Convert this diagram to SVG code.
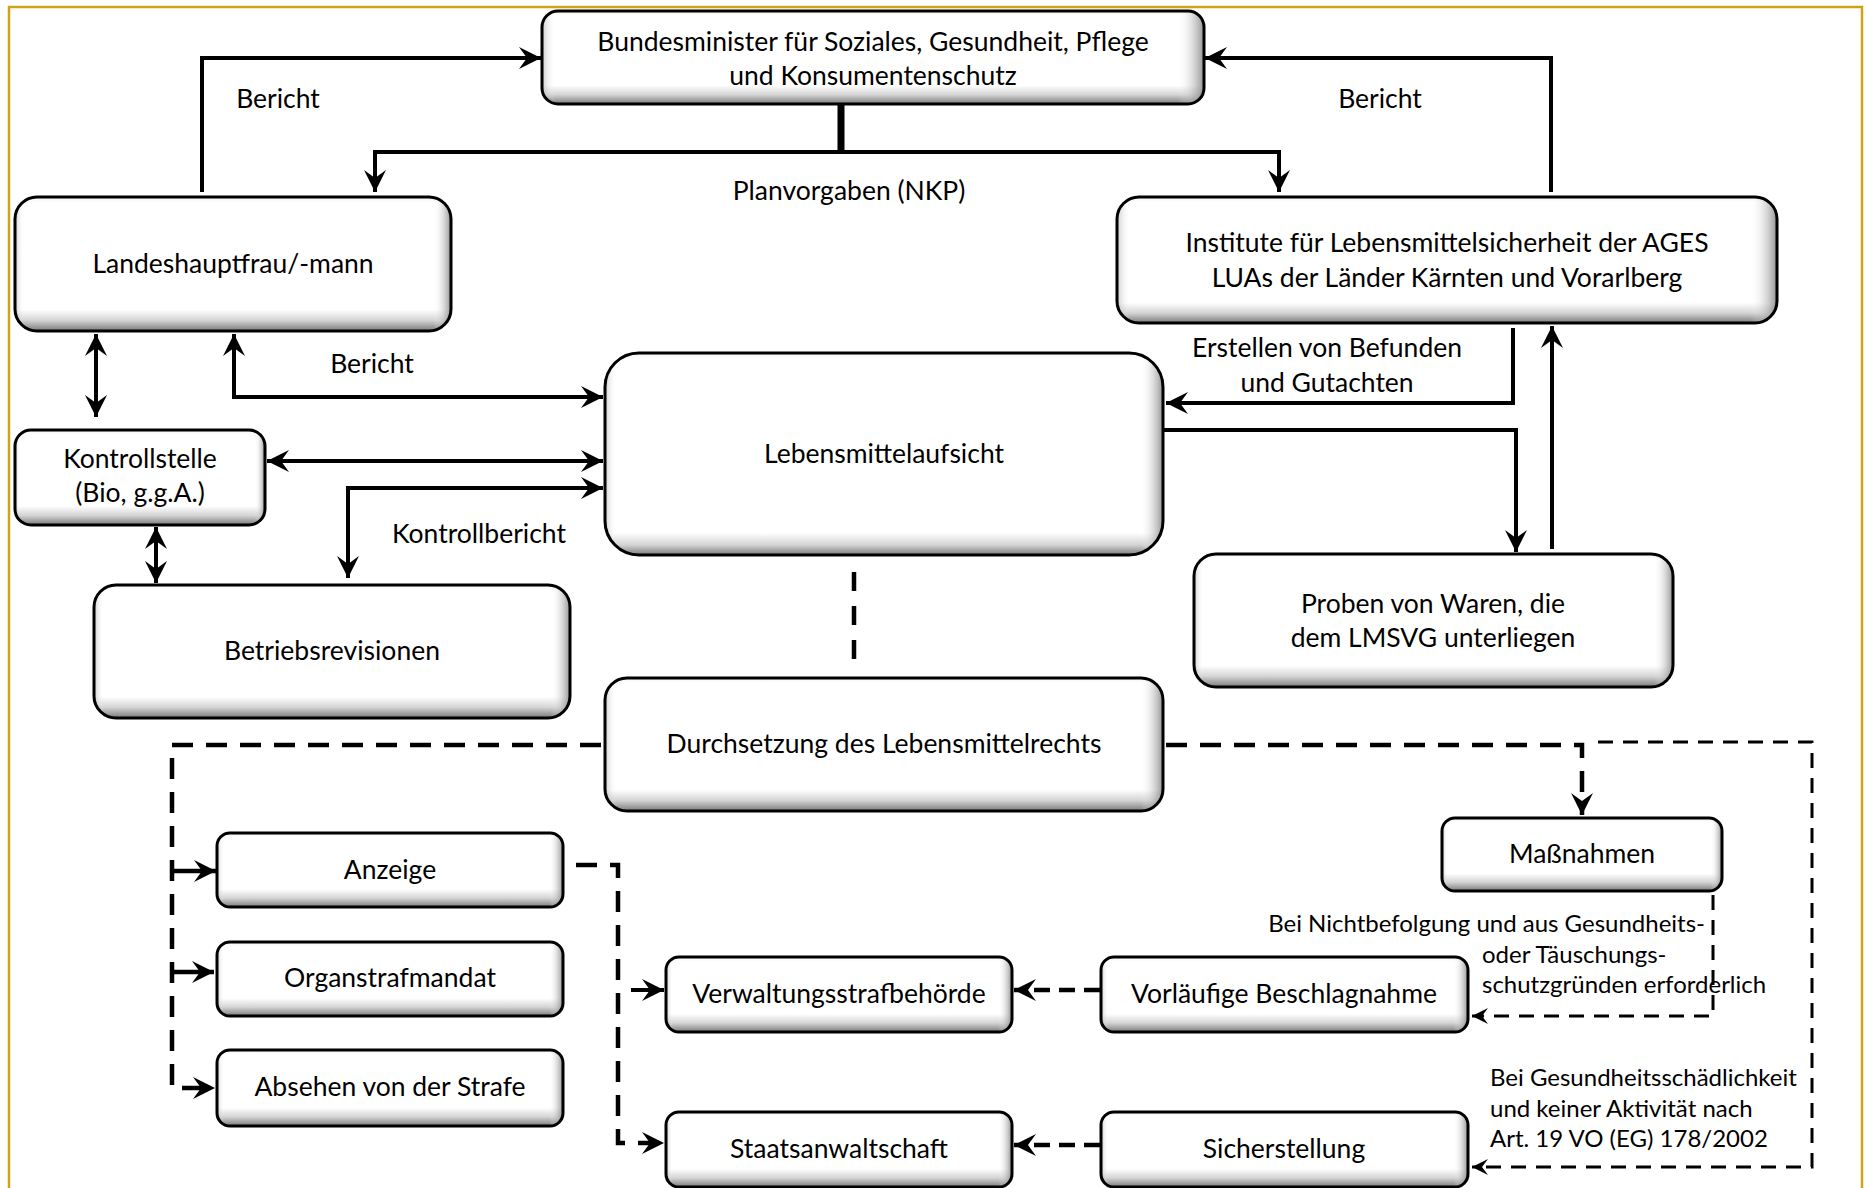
<svg xmlns="http://www.w3.org/2000/svg" width="1867" height="1188" viewBox="0 0 1867 1188">
<style>
  .box{stroke:#000;stroke-width:3}
  .t{font-family:Lato,"Liberation Sans",sans-serif;font-size:26.5px;fill:#000;text-anchor:middle}
  .ts{font-family:Lato,"Liberation Sans",sans-serif;font-size:24px;fill:#000}
  .solid{fill:none;stroke:#000;stroke-width:4}
  .dash{fill:none;stroke:#000;stroke-width:4.5;stroke-dasharray:21 13}
  .dthin{fill:none;stroke:#000;stroke-width:3;stroke-dasharray:15 10}
</style>
<defs>
  <linearGradient id="g75" x1="0" y1="0" x2="0" y2="1">
    <stop offset="0" stop-color="#f4f4f4"/><stop offset="0.06" stop-color="#fff"/><stop offset="0.76" stop-color="#fff"/><stop offset="0.88" stop-color="#d4d4d4"/><stop offset="1" stop-color="#7a7a7a"/>
  </linearGradient>
  <linearGradient id="g95" x1="0" y1="0" x2="0" y2="1">
    <stop offset="0" stop-color="#f4f4f4"/><stop offset="0.05" stop-color="#fff"/><stop offset="0.8" stop-color="#fff"/><stop offset="0.9" stop-color="#d4d4d4"/><stop offset="1" stop-color="#7a7a7a"/>
  </linearGradient>
  <linearGradient id="g130" x1="0" y1="0" x2="0" y2="1">
    <stop offset="0" stop-color="#f4f4f4"/><stop offset="0.04" stop-color="#fff"/><stop offset="0.84" stop-color="#fff"/><stop offset="0.92" stop-color="#d4d4d4"/><stop offset="1" stop-color="#7a7a7a"/>
  </linearGradient>
  <linearGradient id="g200" x1="0" y1="0" x2="0" y2="1">
    <stop offset="0" stop-color="#f4f4f4"/><stop offset="0.03" stop-color="#fff"/><stop offset="0.89" stop-color="#fff"/><stop offset="0.95" stop-color="#d4d4d4"/><stop offset="1" stop-color="#7a7a7a"/>
  </linearGradient>
  <linearGradient id="hR" x1="0" y1="0" x2="1" y2="0">
    <stop offset="0" stop-color="#999" stop-opacity="0.5"/><stop offset="0.02" stop-color="#fff" stop-opacity="0"/><stop offset="0.96" stop-color="#fff" stop-opacity="0"/><stop offset="1" stop-color="#777" stop-opacity="0.8"/>
  </linearGradient>
  <marker id="ah" viewBox="-24 -12 26 24" refX="0" refY="0" markerWidth="26" markerHeight="24" markerUnits="userSpaceOnUse" orient="auto-start-reverse">
    <path d="M0,0 L-22,-11 L-14,0 L-22,11 Z" fill="#000"/>
  </marker>
  <marker id="as" viewBox="-18 -9 20 18" refX="0" refY="0" markerWidth="20" markerHeight="18" markerUnits="userSpaceOnUse" orient="auto-start-reverse">
    <path d="M0,0 L-16,-8 L-10,0 L-16,8 Z" fill="#000"/>
  </marker>
</defs>

<rect x="9" y="7" width="1853" height="1195" fill="#fff" stroke="#d0a216" stroke-width="2.5"/>

<g id="connectors">
  <path class="solid" d="M202,192 V58 H541" marker-end="url(#ah)"/>
  <path class="solid" d="M1551,192 V58 H1205" marker-end="url(#ah)"/>
  <path class="solid" d="M841,104 V152" style="stroke-width:7"/>
  <path class="solid" d="M375,192 V152 H1279 V192" marker-start="url(#ah)" marker-end="url(#ah)"/>
  <path class="solid" d="M96,334 V417" marker-start="url(#ah)" marker-end="url(#ah)"/>
  <path class="solid" d="M234,334 V397 H603" marker-start="url(#ah)" marker-end="url(#ah)"/>
  <path class="solid" d="M267,461 H603" marker-start="url(#ah)" marker-end="url(#ah)"/>
  <path class="solid" d="M603,488 H348 V578" marker-start="url(#ah)" marker-end="url(#ah)"/>
  <path class="solid" d="M156,527 V583" marker-start="url(#ah)" marker-end="url(#ah)"/>
  <path class="solid" d="M1513,328 V403 H1166" marker-end="url(#ah)"/>
  <path class="solid" d="M1164,430 H1516 V552" marker-end="url(#ah)"/>
  <path class="solid" d="M1552,549 V326" marker-end="url(#ah)"/>
  <path class="dash" d="M854,572 V660" style="stroke-dasharray:19 15"/>
  <path class="dash" d="M601,745 H172 V1088 H215" marker-end="url(#ah)"/>
  <path class="dash" d="M172,871 H216" style="stroke-dasharray:none" marker-end="url(#ah)"/>
  <path class="dash" d="M172,972 H214" style="stroke-dasharray:none" marker-end="url(#ah)"/>
  <path class="dash" d="M1166,745 H1582 V815" marker-end="url(#ah)"/>
  <path class="dthin" d="M1598,742 H1812 V1167 H1472" marker-end="url(#as)"/>
  <path class="dthin" d="M1713,895 V1016 H1472" marker-end="url(#as)"/>
  <path class="dash" d="M1100,990 H1014" style="stroke-dasharray:16 9" marker-end="url(#ah)"/>
  <path class="dash" d="M1100,1145 H1014" style="stroke-dasharray:16 9" marker-end="url(#ah)"/>
  <path class="dash" d="M576,865 H618 V1143 H664" marker-end="url(#ah)"/>
  <path class="solid" d="M631,990 H664" marker-end="url(#ah)"/>
</g>

<g id="labels">
  <text class="t" x="278" y="108">Bericht</text>
  <text class="t" x="1380" y="108">Bericht</text>
  <text class="t" x="849" y="200">Planvorgaben (NKP)</text>
  <text class="t" x="372" y="373">Bericht</text>
  <text class="t" x="479" y="543">Kontrollbericht</text>
  <text class="t" x="1327" y="357">Erstellen von Befunden</text>
  <text class="t" x="1327" y="392">und Gutachten</text>
  <text class="ts" x="1705" y="932" text-anchor="end">Bei Nichtbefolgung und aus Gesundheits-</text>
  <text class="ts" x="1482" y="963">oder Täuschungs-</text>
  <text class="ts" x="1482" y="993">schutzgründen erforderlich</text>
  <text class="ts" x="1490" y="1086">Bei Gesundheitsschädlichkeit</text>
  <text class="ts" x="1490" y="1117">und keiner Aktivität nach</text>
  <text class="ts" x="1490" y="1147">Art. 19 VO (EG) 178/2002</text>
</g>

<g id="n-bundesminister">
  <rect x="542" y="11" width="662" height="93" rx="16" fill="url(#g95)"/>
  <rect class="box" x="542" y="11" width="662" height="93" rx="16" fill="url(#hR)"/>
  <text class="t" x="873" y="51">Bundesminister für Soziales, Gesundheit, Pflege</text>
  <text class="t" x="873" y="85">und Konsumentenschutz</text>
</g>
<g id="n-landeshauptmann">
  <rect x="15" y="197" width="436" height="134" rx="22" fill="url(#g130)"/>
  <rect class="box" x="15" y="197" width="436" height="134" rx="22" fill="url(#hR)"/>
  <text class="t" x="233" y="273">Landeshauptfrau/-mann</text>
</g>
<g id="n-institute">
  <rect x="1117" y="197" width="660" height="126" rx="22" fill="url(#g130)"/>
  <rect class="box" x="1117" y="197" width="660" height="126" rx="22" fill="url(#hR)"/>
  <text class="t" x="1447" y="252">Institute für Lebensmittelsicherheit der AGES</text>
  <text class="t" x="1447" y="287">LUAs der Länder Kärnten und Vorarlberg</text>
</g>
<g id="n-kontrollstelle">
  <rect x="15" y="430" width="250" height="95" rx="16" fill="url(#g95)"/>
  <rect class="box" x="15" y="430" width="250" height="95" rx="16" fill="url(#hR)"/>
  <text class="t" x="140" y="468">Kontrollstelle</text>
  <text class="t" x="140" y="502">(Bio, g.g.A.)</text>
</g>
<g id="n-betriebsrevisionen">
  <rect x="94" y="585" width="476" height="133" rx="22" fill="url(#g130)"/>
  <rect class="box" x="94" y="585" width="476" height="133" rx="22" fill="url(#hR)"/>
  <text class="t" x="332" y="660">Betriebsrevisionen</text>
</g>
<g id="n-lebensmittelaufsicht">
  <rect x="605" y="353" width="558" height="202" rx="34" fill="url(#g200)"/>
  <rect class="box" x="605" y="353" width="558" height="202" rx="34" fill="url(#hR)"/>
  <text class="t" x="884" y="463">Lebensmittelaufsicht</text>
</g>
<g id="n-durchsetzung">
  <rect x="605" y="678" width="558" height="133" rx="22" fill="url(#g130)"/>
  <rect class="box" x="605" y="678" width="558" height="133" rx="22" fill="url(#hR)"/>
  <text class="t" x="884" y="753">Durchsetzung des Lebensmittelrechts</text>
</g>
<g id="n-proben">
  <rect x="1194" y="554" width="479" height="133" rx="22" fill="url(#g130)"/>
  <rect class="box" x="1194" y="554" width="479" height="133" rx="22" fill="url(#hR)"/>
  <text class="t" x="1433" y="613">Proben von Waren, die</text>
  <text class="t" x="1433" y="647">dem LMSVG unterliegen</text>
</g>
<g id="n-massnahmen">
  <rect x="1442" y="818" width="280" height="73" rx="13" fill="url(#g75)"/>
  <rect class="box" x="1442" y="818" width="280" height="73" rx="13" fill="url(#hR)"/>
  <text class="t" x="1582" y="863">Maßnahmen</text>
</g>
<g id="n-anzeige">
  <rect x="217" y="833" width="346" height="74" rx="13" fill="url(#g75)"/>
  <rect class="box" x="217" y="833" width="346" height="74" rx="13" fill="url(#hR)"/>
  <text class="t" x="390" y="879">Anzeige</text>
</g>
<g id="n-organstrafmandat">
  <rect x="217" y="942" width="346" height="74" rx="13" fill="url(#g75)"/>
  <rect class="box" x="217" y="942" width="346" height="74" rx="13" fill="url(#hR)"/>
  <text class="t" x="390" y="987">Organstrafmandat</text>
</g>
<g id="n-absehen">
  <rect x="217" y="1050" width="346" height="76" rx="13" fill="url(#g75)"/>
  <rect class="box" x="217" y="1050" width="346" height="76" rx="13" fill="url(#hR)"/>
  <text class="t" x="390" y="1096">Absehen von der Strafe</text>
</g>
<g id="n-verwaltungsstrafbehoerde">
  <rect x="666" y="957" width="346" height="75" rx="13" fill="url(#g75)"/>
  <rect class="box" x="666" y="957" width="346" height="75" rx="13" fill="url(#hR)"/>
  <text class="t" x="839" y="1003">Verwaltungsstrafbehörde</text>
</g>
<g id="n-staatsanwaltschaft">
  <rect x="666" y="1112" width="346" height="75" rx="13" fill="url(#g75)"/>
  <rect class="box" x="666" y="1112" width="346" height="75" rx="13" fill="url(#hR)"/>
  <text class="t" x="839" y="1158">Staatsanwaltschaft</text>
</g>
<g id="n-beschlagnahme">
  <rect x="1101" y="957" width="367" height="75" rx="13" fill="url(#g75)"/>
  <rect class="box" x="1101" y="957" width="367" height="75" rx="13" fill="url(#hR)"/>
  <text class="t" x="1284" y="1003">Vorläufige Beschlagnahme</text>
</g>
<g id="n-sicherstellung">
  <rect x="1101" y="1112" width="367" height="75" rx="13" fill="url(#g75)"/>
  <rect class="box" x="1101" y="1112" width="367" height="75" rx="13" fill="url(#hR)"/>
  <text class="t" x="1284" y="1158">Sicherstellung</text>
</g>
</svg>
